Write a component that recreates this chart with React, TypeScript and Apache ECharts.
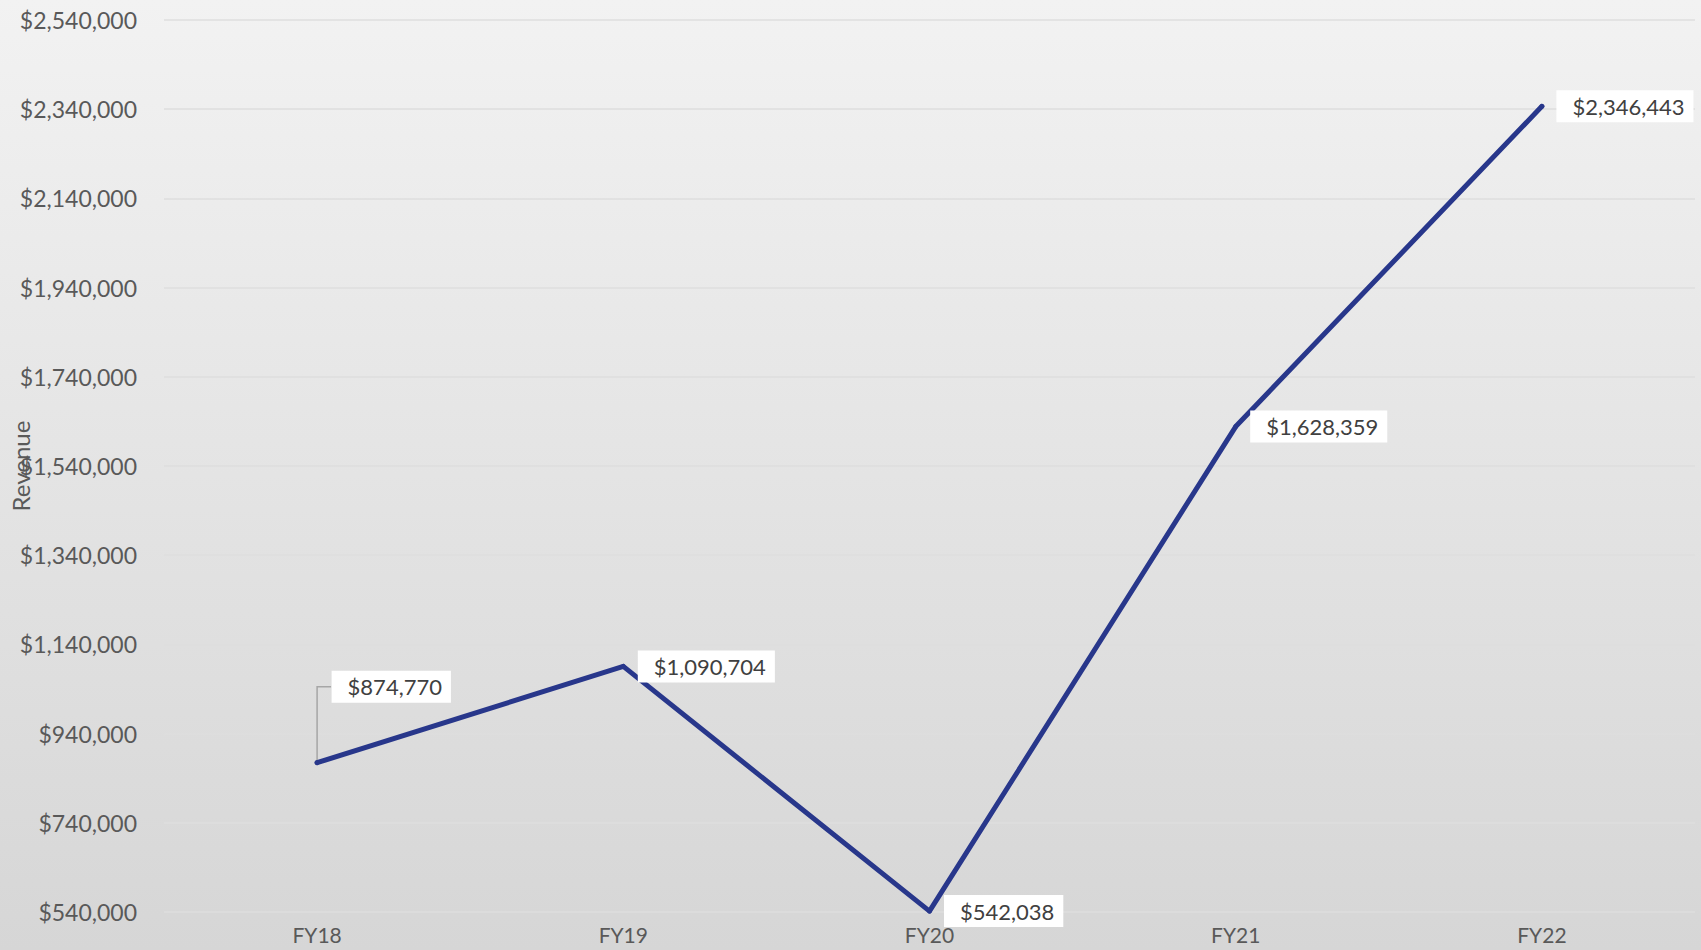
import React, { useEffect, useRef } from "react";
import * as echarts from "echarts";

const categories = ["FY18", "FY19", "FY20", "FY21", "FY22"];
const revenue = [874770, 1090704, 542038, 1628359, 2346443];
const yMin = 540000;
const yMax = 2540000;
const yStep = 200000;
const yName = "Revenue";

const fmt = (v: number) => "$" + Math.round(v).toLocaleString("en-US");

export default function App() {
  const ref = useRef<HTMLDivElement>(null);
  useEffect(() => {
    document.body.style.margin = "0";
    const chart = echarts.init(ref.current!, null, { renderer: "svg" });
    const font = "Lato, 'Open Sans', sans-serif";
    chart.setOption({
      animation: false,
      backgroundColor: {
        type: "linear",
        x: 0,
        y: 0,
        x2: 0,
        y2: 1,
        colorStops: [
          { offset: 0, color: "#f2f2f2" },
          { offset: 1, color: "#d6d6d6" },
        ],
      },
      textStyle: { fontFamily: font },
      grid: {
        left: 164,
        right: 6,
        top: 20,
        bottom: 38,
        containLabel: false,
        outerBoundsMode: "none",
      },
      xAxis: {
        type: "category",
        data: categories,
        boundaryGap: true,
        axisLine: { show: false },
        axisTick: { show: false },
        axisLabel: { color: "#595959", fontSize: 21, margin: 12, fontFamily: font },
        splitLine: { show: false },
      },
      yAxis: {
        type: "value",
        min: yMin,
        max: yMax,
        interval: yStep,
        name: yName,
        nameLocation: "middle",
        nameGap: 132,
        nameMoveOverlap: false,
        nameTextStyle: { color: "#595959", fontSize: 24, fontFamily: font },
        axisLine: { show: false },
        axisTick: { show: false },
        axisLabel: {
          color: "#595959",
          fontSize: 23,
          margin: 27,
          fontFamily: font,
          formatter: (v: number) => fmt(v),
        },
        splitLine: { lineStyle: { color: "#dedede", width: 1.5 } },
      },
      series: [
        {
          type: "line",
          data: revenue.map((v, i) => {
            const item: any = { value: v };
            if (i === 0) {
              item.label = { offset: [0, -76] };
            }
            return item;
          }),
          symbol: "circle",
          symbolSize: 5,
          showSymbol: true,
          itemStyle: { color: "#28378b" },
          lineStyle: { color: "#28378b", width: 5, cap: "round", join: "round" },
          label: {
            show: true,
            position: "right",
            distance: 12,
            formatter: (p: any) => fmt(p.value),
            color: "#404040",
            fontSize: 22,
            fontFamily: font,
            backgroundColor: "#ffffff",
            padding: [5, 9, 5, 16],
          },
          z: 3,
        },
        {
          type: "custom",
          data: [[0, revenue[0]]],
          z: 2,
          silent: true,
          renderItem: (params: any, api: any) => {
            const p = api.coord([api.value(0), api.value(1)]);
            return {
              type: "polyline",
              shape: {
                points: [
                  [p[0], p[1]],
                  [p[0], p[1] - 76],
                  [p[0] + 14, p[1] - 76],
                ],
              },
              style: { stroke: "#a6a6a6", lineWidth: 1.5, fill: "none" },
            };
          },
        },
      ],
    });
    return () => chart.dispose();
  }, []);
  return <div ref={ref} style={{ width: 1701, height: 950 }} />;
}
